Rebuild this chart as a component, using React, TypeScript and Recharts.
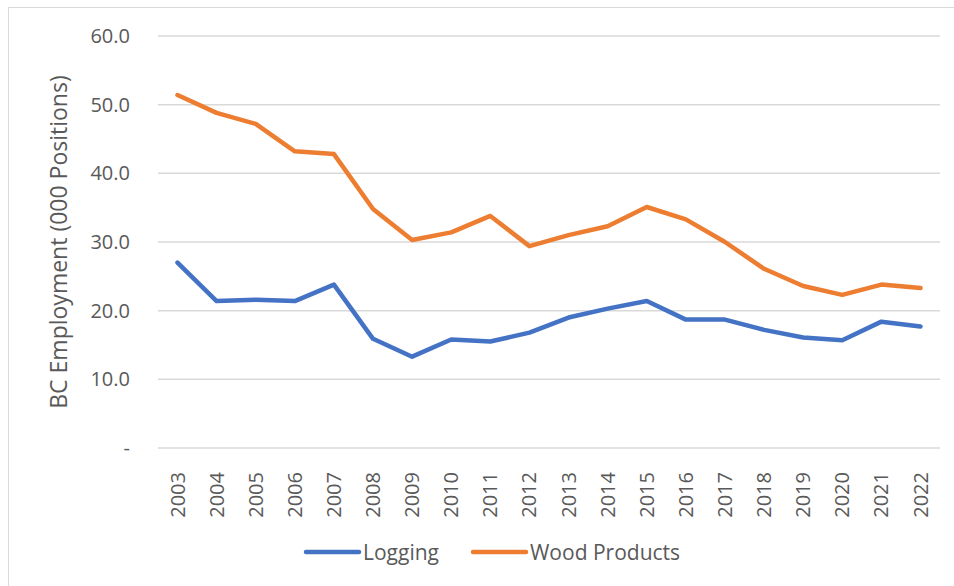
import { CartesianGrid, Legend, Line, LineChart, XAxis, YAxis } from "recharts";

const years = [
  "2003", "2004", "2005", "2006", "2007", "2008", "2009", "2010", "2011", "2012",
  "2013", "2014", "2015", "2016", "2017", "2018", "2019", "2020", "2021", "2022",
];
const logging = [
  27.0, 21.4, 21.6, 21.4, 23.8, 15.9, 13.3, 15.8, 15.5, 16.8,
  19.0, 20.3, 21.4, 18.7, 18.7, 17.2, 16.1, 15.7, 18.4, 17.7,
];
const woodProducts = [
  51.4, 48.8, 47.2, 43.2, 42.8, 34.8, 30.3, 31.4, 33.8, 29.4,
  31.0, 32.3, 35.1, 33.3, 30.0, 26.1, 23.6, 22.3, 23.8, 23.3,
];
const yTicks = [0, 10, 20, 30, 40, 50, 60];

const TEXT = "#595959";
const FONT = "'Open Sans', sans-serif";

const data = years.map((year, i) => ({
  year,
  logging: logging[i],
  wood: woodProducts[i],
}));

function YearTick(props: any) {
  const { x, y, payload } = props;
  const top = y + 16;
  return (
    <text
      x={x}
      y={top}
      transform={`rotate(-90, ${x}, ${top})`}
      textAnchor="end"
      dy="0.35em"
      fill={TEXT}
      fontSize={20}
      fontFamily={FONT}
    >
      {payload.value}
    </text>
  );
}

function LegendBox() {
  const items = [
    { name: "Logging", color: "#4472C4" },
    { name: "Wood Products", color: "#ED7D31" },
  ];
  return (
    <div style={{ display: "flex", gap: 30, fontFamily: FONT, fontSize: 21, color: TEXT, lineHeight: "24px" }}>
      {items.map((it) => (
        <div key={it.name} style={{ display: "flex", alignItems: "center" }}>
          <svg width={61} height={8}>
            <line x1={4} y1={4} x2={57} y2={4} stroke={it.color} strokeWidth={4.5} strokeLinecap="round" />
          </svg>
          <span>{it.name}</span>
        </div>
      ))}
    </div>
  );
}

export default function App() {
  return (
    <div style={{ position: "absolute", left: 0, top: 0, width: 954, height: 586, background: "#fff", overflow: "hidden" }}>
      <div
        style={{
          position: "absolute",
          left: 8,
          top: 7,
          width: 960,
          height: 600,
          border: "1.5px solid #D9D9D9",
        }}
      />
      <LineChart
        width={954}
        height={586}
        data={data}
        margin={{ top: 36, right: 14, left: 0, bottom: 34 }}
      >
        <CartesianGrid stroke="#D9D9D9" strokeWidth={1.5} vertical={false} />
        <XAxis
          dataKey="year"
          axisLine={false}
          tickLine={false}
          interval={0}
          height={80}
          padding={{ left: 19.5, right: 19.5 }}
          tick={<YearTick />}
        />
        <YAxis
          width={158}
          domain={[0, 60]}
          ticks={yTicks}
          axisLine={false}
          tickLine={false}
          tickMargin={22}
          tick={{ fill: TEXT, fontSize: 20, fontFamily: FONT }}
          tickFormatter={(v: number) => (v === 0 ? "-" : v.toFixed(1))}
          label={{
            value: "BC Employment (000 Positions)",
            angle: -90,
            position: "insideLeft",
            dx: 54,
            fill: TEXT,
            fontSize: 23,
            fontFamily: FONT,
            style: { textAnchor: "middle" },
          }}
        />
        <Legend
          content={<LegendBox />}
          wrapperStyle={{ position: "absolute", left: 302, top: 540, width: "auto" }}
        />
        <Line
          name="Logging"
          dataKey="logging"
          stroke="#4472C4"
          strokeWidth={4.5}
          strokeLinejoin="round"
          strokeLinecap="round"
          dot={false}
          isAnimationActive={false}
        />
        <Line
          name="Wood Products"
          dataKey="wood"
          stroke="#ED7D31"
          strokeWidth={4.5}
          strokeLinejoin="round"
          strokeLinecap="round"
          dot={false}
          isAnimationActive={false}
        />
      </LineChart>
    </div>
  );
}
